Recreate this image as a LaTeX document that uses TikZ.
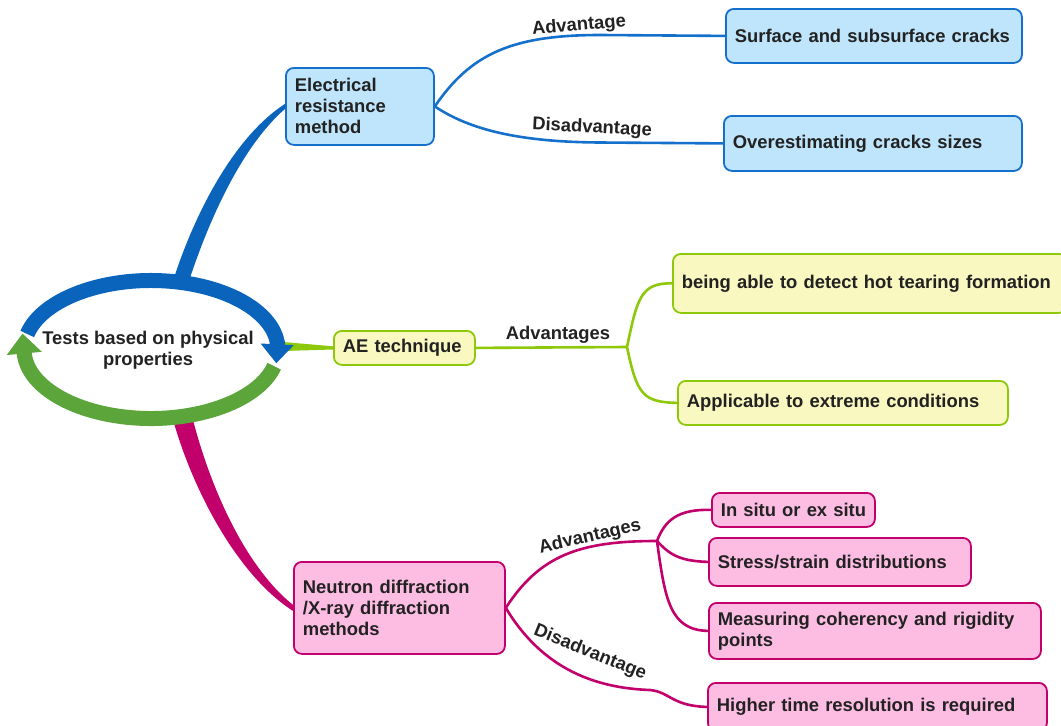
\documentclass[tikz,border=0pt]{standalone}
\usepackage{fontspec}
\setmainfont{Liberation Sans}
\usetikzlibrary{arrows.meta,calc}
\definecolor{ink}{HTML}{222222}
\definecolor{bluemain}{HTML}{0A64BC}
\definecolor{blueline}{HTML}{1570CC}
\definecolor{bluefill}{HTML}{BEE5FB}
\definecolor{greenring}{HTML}{5CA53B}
\definecolor{lime}{HTML}{8DC80A}
\definecolor{limefill}{HTML}{F8F8C0}
\definecolor{rosemain}{HTML}{C2006C}
\definecolor{pinkfill}{HTML}{FDBDE3}
\begin{document}
\begin{tikzpicture}[x=1pt,y=1pt,
  txt/.style={font=\bfseries\fontsize{18.4}{21}\selectfont, text=ink},
  box/.style={txt, rounded corners=8pt, line width=1.8pt, align=left,
              inner xsep=9pt, inner ysep=0pt, anchor=north west},
  bluebox/.style={box, draw=blueline, fill=bluefill},
  limebox/.style={box, draw=lime, fill=limefill},
  pinkbox/.style={box, draw=rosemain, fill=pinkfill},
  lbl/.style={txt, inner sep=1pt},
  twig/.style={line width=2.6pt},
]
\useasboundingbox (0,0) rectangle (1061,-726);

% central topic
\node[txt, align=center] (hub) at (148,-350) {Tests based on physical\\properties};

% first level topics
\node[bluebox, text width=130pt, minimum height=77pt] (elec) at (285,-67) {Electrical\\resistance\\method};
\node[limebox, text width=123pt, minimum height=34pt] (ae) at (333,-330) {\mbox{AE technique}};
\node[pinkbox, text width=193pt, minimum height=92pt] (neut) at (293,-561) {Neutron diffraction\\/X-ray diffraction\\methods};

% second level topics
\node[bluebox, text width=278pt, minimum height=54pt] (surf) at (725,-8) {\mbox{Surface and subsurface cracks}};
\node[bluebox, text width=280pt, minimum height=55pt] (over) at (723,-115) {\mbox{Overestimating cracks sizes}};
\node[limebox, text width=376pt, minimum height=59pt] (hot) at (672,-253) {\mbox{being able to detect hot tearing formation}};
\node[limebox, text width=312pt, minimum height=44pt] (appl) at (677,-380) {\mbox{Applicable to extreme conditions}};
\node[pinkbox, text width=145pt, minimum height=34pt] (situ) at (711,-492) {\mbox{In situ or ex situ}};
\node[pinkbox, text width=244pt, minimum height=48pt] (stress) at (708,-537) {\mbox{Stress/strain distributions}};
\node[pinkbox, text width=314pt, minimum height=56pt] (meas) at (708,-602) {\mbox{Measuring coherency and rigidity}\\points};
\node[pinkbox, text width=321pt, minimum height=48pt] (high) at (707,-682) {\mbox{Higher time resolution is required}};

% branch labels
\node[lbl, rotate=5] (la1) at (579,-26) {Advantage};
\node[lbl, rotate=-3] (ld1) at (592,-128) {Disadvantage};
\node[lbl] (la2) at (558,-335) {Advantages};
\node[lbl, rotate=13] (la3) at (590,-537) {Advantages};
\node[lbl, rotate=-22] (ld3) at (590,-653) {Disadvantage};

% fork points
\coordinate (gfork) at (627,-347);
\coordinate (pfork) at (657,-541);

% thin connectors
\draw[twig, blueline] (elec.east) .. controls (470,-55) and (510,-35) .. (600,-35) -- (surf.west);
\draw[twig, blueline] (elec.east) .. controls (470,-130) and (520,-142) .. (600,-142.5) -- (over.west);
\draw[twig, lime] (ae.east) -- (gfork);
\draw[twig, lime] (gfork) .. controls (637,-300) and (640,-282.5) .. (hot.west);
\draw[twig, lime] (gfork) .. controls (637,-395) and (643,-402) .. (appl.west);
\draw[twig, rosemain] (neut.east) .. controls (540,-555) and (580,-541) .. (pfork);
\draw[twig, rosemain] (pfork) .. controls (665,-520) and (678,-509) .. (situ.west);
\draw[twig, rosemain] (pfork) .. controls (670,-555) and (680,-561) .. (stress.west);
\draw[twig, rosemain] (pfork) .. controls (665,-600) and (670,-630) .. (meas.west);
\draw[twig, rosemain] (neut.east) .. controls (540,-665) and (590,-688) .. (650,-690)
      .. controls (670,-692) and (672,-706) .. (high.west);

% tapered main branches
\coordinate (rbtop) at (180,-284);
\coordinate (rbbot) at (182,-416);
\coordinate (rbright) at (283,-346.5);
\fill[bluemain] ($(rbtop)+(-8,0)$) .. controls (195.9,-208.3) and (236.5,-135.1) .. ($(elec.west)+(0,2.5)$)
      -- ($(elec.west)+(0,-2.5)$) .. controls (243.5,-144.9) and (210.1,-215.7) .. ($(rbtop)+(8,0)$) -- cycle;
\fill[rosemain] ($(rbbot)+(10,0)$) .. controls (208.7,-482.7) and (243.4,-565.1) .. ($(neut.west)+(0,3)$)
      -- ($(neut.west)+(0,-3)$) .. controls (236.6,-574.9) and (191.3,-487.3) .. ($(rbbot)+(-10,0)$) -- cycle;
\fill[lime] ($(rbright)+(0,4.5)$) -- ($(ae.west)+(0,1.6)$) -- ($(ae.west)+(0,-1.6)$) -- ($(rbright)+(0,-4.5)$) -- cycle;

% cycle ring around the central topic
\coordinate (c) at (151,-349.5);
\draw[greenring, line width=15pt, -{Triangle[width=34pt,length=20pt]}]
  ($(c)+(-14:127pt and 69pt)$) arc[start angle=-14, end angle=-175, x radius=127pt, y radius=69pt]
  -- ++(-2,22);
\draw[bluemain, line width=15pt, -{Triangle[width=32pt,length=19pt]}]
  ($(c)+(167:127pt and 69pt)$) arc[start angle=167, end angle=6, x radius=127pt, y radius=69pt]
  -- ++(-1,-21);
\end{tikzpicture}
\end{document}
